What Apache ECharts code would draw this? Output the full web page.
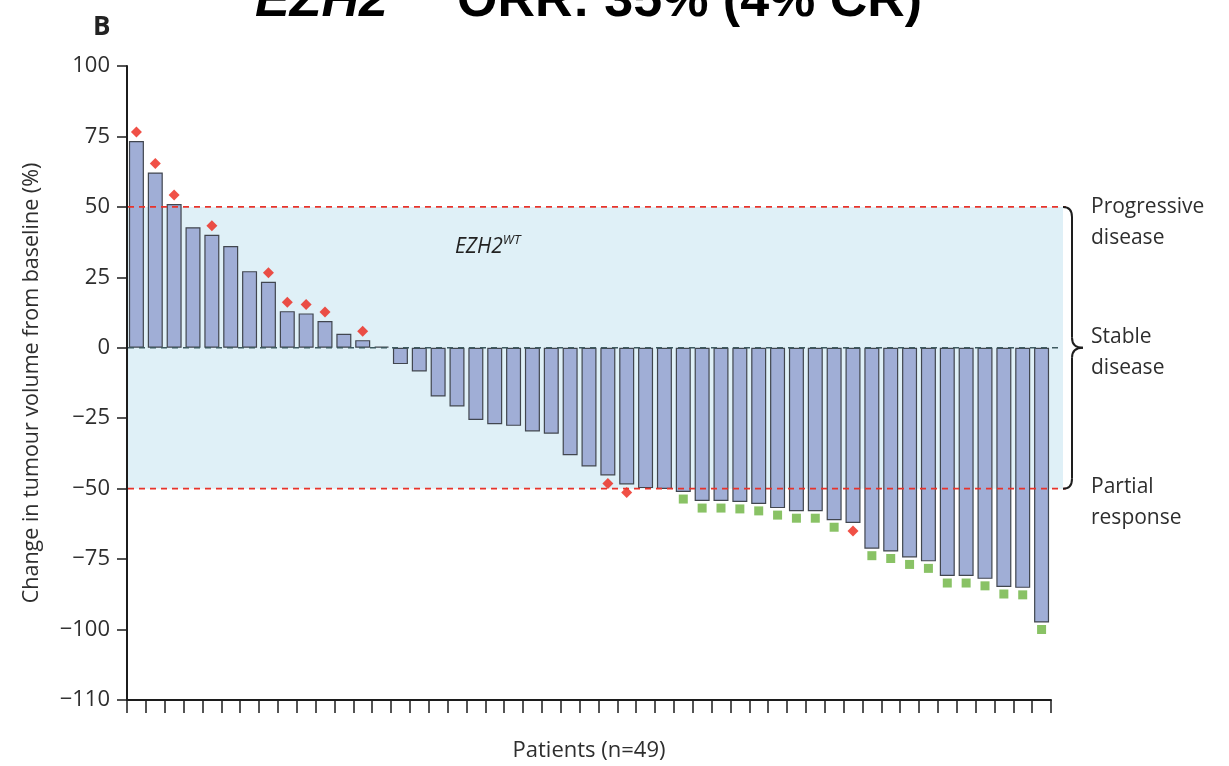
<!DOCTYPE html>
<html>
<head>
<meta charset="utf-8">
<title>Waterfall plot – change in tumour volume</title>
<script src="https://cdn.jsdelivr.net/npm/echarts@6/dist/echarts.min.js"></script>
<style>
  html, body { margin: 0; padding: 0; background: #ffffff; }
  #chart { width: 1229px; height: 766px; }
</style>
</head>
<body>
<div id="chart"></div>
<script>
// ---- data ----------------------------------------------------------------
// Best change in tumour volume from baseline (%) per patient, sorted.
const changeFromBaseline = [
  73.4, 62.2, 51.0, 42.8, 40.1, 36.1, 27.2, 23.4, 13.0, 12.2, 9.5, 5.0, 2.7, 0.4,
  -5.8, -8.4, -17.3, -20.8, -25.6, -27.1, -27.7, -29.7, -30.5, -38.1, -42.1, -45.3, -48.5, -49.8, -50.1,
  -51.2, -54.4, -54.4, -54.7, -55.4, -56.9, -58.0, -58.0, -61.2, -62.2,
  -71.3, -72.3, -74.4, -75.8, -81.0, -81.0, -82.0, -84.9, -85.2, -97.5
];
const patients = changeFromBaseline.map((_, i) => 'Patient ' + (i + 1));

// Patients (1-based position in the sorted order) flagged with each marker.
const redDiamondPatients = [1, 2, 3, 5, 8, 9, 10, 11, 13, 26, 27, 39];
const greenSquarePatients = [30, 31, 32, 33, 34, 35, 36, 37, 38, 40, 41, 42, 43, 44, 45, 46, 47, 48, 49];

// Response thresholds (%)
const progressionLimit = 50;
const responseLimit = -50;

// y axis: the lowest tick sits below an axis break and is labelled −110
const yMin = -125, yMax = 100, yStep = 25;
const yTickLabels = ['−110', '−100', '−75', '−50', '−25', '0', '25', '50', '75', '100'];

// ---- chart ---------------------------------------------------------------
const FONT = "'Open Sans', 'DejaVu Sans', sans-serif";
const TITLE_FONT = "'Liberation Sans', Arial, sans-serif";
const INK = '#2e2e2e';
const GRID_LEFT = 127, GRID_RIGHT_X = 1051;

const chart = echarts.init(document.getElementById('chart'), null, { width: 1229, height: 766 });

function markerPoint(n, offsetUp, offsetDown) {
  const v = changeFromBaseline[n - 1];
  return { value: [n - 1, v], symbolOffset: [0, v >= 0 ? -offsetUp : offsetDown] };
}

const option = {
  animation: false,
  backgroundColor: '#ffffff',
  title: {
    text: '{i|EZH2}{s|WT}{n| ORR: 35% (4% CR)}',
    left: 250,
    top: -29,
    textStyle: {
      rich: {
        i: { fontFamily: TITLE_FONT, fontSize: 52, lineHeight: 52, fontWeight: 'bold', fontStyle: 'italic', color: '#000' },
        s: { fontFamily: TITLE_FONT, fontSize: 30, lineHeight: 30, fontWeight: 'bold', fontStyle: 'italic', color: '#000', verticalAlign: 'top', padding: [0, 4, 0, 4] },
        n: { fontFamily: TITLE_FONT, fontSize: 52, lineHeight: 52, fontWeight: 'bold', color: '#000' }
      }
    }
  },
  grid: {
    left: GRID_LEFT, right: 1229 - GRID_RIGHT_X, top: 66, bottom: 66,
    containLabel: false, outerBoundsMode: 'none'
  },
  xAxis: {
    type: 'category',
    data: patients,
    boundaryGap: true,
    name: 'Patients (n=49)',
    nameLocation: 'middle',
    nameGap: 40,
    nameTextStyle: { fontFamily: FONT, fontSize: 22, color: INK, verticalAlign: 'top' },
    axisLine: { onZero: false, lineStyle: { color: '#1c1c1c', width: 2 } },
    axisTick: { show: true, interval: 0, alignWithLabel: false, length: 13, lineStyle: { color: '#1c1c1c', width: 1.5 } },
    axisLabel: { show: false },
    splitLine: { show: false }
  },
  yAxis: {
    type: 'value',
    min: yMin,
    max: yMax,
    interval: yStep,
    name: 'Change in tumour volume from baseline (%)',
    nameLocation: 'middle',
    nameGap: 84,
    nameTextStyle: { fontFamily: FONT, fontSize: 21.5, color: INK },
    axisLine: { show: true, lineStyle: { color: '#1c1c1c', width: 2 } },
    axisTick: { show: true, length: 10, lineStyle: { color: '#1c1c1c', width: 1.5 } },
    axisLabel: {
      margin: 17,
      fontFamily: FONT,
      fontSize: 22,
      color: INK,
      formatter: v => yTickLabels[Math.round((v - yMin) / yStep)]
    },
    splitLine: { show: false }
  },
  series: [
    {
      name: 'Change from baseline',
      type: 'bar',
      data: changeFromBaseline,
      barWidth: 15,
      itemStyle: { color: '#a0aed6', borderColor: '#41464f', borderWidth: 1.2 },
      z: 2
    },
    {
      name: 'Red diamond',
      type: 'scatter',
      symbol: 'diamond',
      symbolSize: 11,
      itemStyle: { color: '#ec2418' },
      data: redDiamondPatients.map(n => markerPoint(n, 9, 8)),
      z: 3
    },
    {
      name: 'Green square',
      type: 'scatter',
      symbol: 'rect',
      symbolSize: 9,
      itemStyle: { color: '#6cb33f' },
      data: greenSquarePatients.map(n => markerPoint(n, 7, 7)),
      z: 3
    }
  ]
};

chart.setOption(option);

// ---- reference band, threshold lines, brace and annotations -------------
const yAt = v => chart.convertToPixel({ yAxisIndex: 0 }, v);
const yTop = yAt(progressionLimit);
const yZero = yAt(0);
const yBottom = yAt(responseLimit);

const bandRight = 1063;
const braceX = 1072, braceTip = 1083, braceEnd = 1063, r = 10;
const braceStyle = { stroke: '#1e1e1e', lineWidth: 2, fill: null };
const labelStyle = { fontFamily: FONT, fontSize: 21, lineHeight: 31, fill: INK, align: 'left', verticalAlign: 'top' };

chart.setOption({
  graphic: [
    { type: 'rect', z: 0, silent: true,
      shape: { x: GRID_LEFT + 1, y: yTop, width: bandRight - GRID_LEFT - 1, height: yBottom - yTop },
      style: { fill: '#dff0f7' } },
    { type: 'line', z: 10, silent: true,
      shape: { x1: GRID_LEFT + 1, y1: yTop, x2: 1066, y2: yTop },
      style: { stroke: '#e8332b', lineWidth: 1.6, lineDash: [6, 5] } },
    { type: 'line', z: 10, silent: true,
      shape: { x1: GRID_LEFT + 1, y1: yBottom, x2: 1066, y2: yBottom },
      style: { stroke: '#e8332b', lineWidth: 1.6, lineDash: [6, 5] } },
    { type: 'line', z: 10, silent: true,
      shape: { x1: GRID_LEFT + 1, y1: yZero, x2: 1058, y2: yZero },
      style: { stroke: '#3e5a60', lineWidth: 1.6, lineDash: [6, 5] } },

    // curly brace spanning the stable-disease band
    { type: 'bezierCurve', z: 10, silent: true,
      shape: { x1: braceEnd, y1: yTop, cpx1: braceX, cpy1: yTop, x2: braceX, y2: yTop + r }, style: braceStyle },
    { type: 'line', z: 10, silent: true,
      shape: { x1: braceX, y1: yTop + r, x2: braceX, y2: yZero - r }, style: braceStyle },
    { type: 'bezierCurve', z: 10, silent: true,
      shape: { x1: braceX, y1: yZero - r, cpx1: braceX, cpy1: yZero, x2: braceTip, y2: yZero }, style: braceStyle },
    { type: 'bezierCurve', z: 10, silent: true,
      shape: { x1: braceTip, y1: yZero, cpx1: braceX, cpy1: yZero, x2: braceX, y2: yZero + r }, style: braceStyle },
    { type: 'line', z: 10, silent: true,
      shape: { x1: braceX, y1: yZero + r, x2: braceX, y2: yBottom - r }, style: braceStyle },
    { type: 'bezierCurve', z: 10, silent: true,
      shape: { x1: braceX, y1: yBottom - r, cpx1: braceX, cpy1: yBottom, x2: braceEnd, y2: yBottom }, style: braceStyle },

    // response category labels
    { type: 'text', z: 10, silent: true, x: 1091, y: yTop - 15.5,
      style: Object.assign({ text: 'Progressive\ndisease' }, labelStyle) },
    { type: 'text', z: 10, silent: true, x: 1091, y: yZero - 26,
      style: Object.assign({ text: 'Stable\ndisease' }, labelStyle) },
    { type: 'text', z: 10, silent: true, x: 1091, y: yBottom - 17,
      style: Object.assign({ text: 'Partial\nresponse' }, labelStyle) },

    // in-band cohort label
    { type: 'text', z: 10, silent: true, x: 455, y: 234,
      style: {
        text: '{g|EZH2}{w|WT}',
        rich: {
          g: { fontFamily: FONT, fontSize: 21, fontStyle: 'italic', fill: '#222', lineHeight: 26 },
          w: { fontFamily: FONT, fontSize: 13, fontStyle: 'italic', fill: '#222', verticalAlign: 'top', lineHeight: 16 }
        }
      } },

    // panel letter
    { type: 'text', z: 10, silent: true, x: 93, y: 15,
      style: { text: 'B', fontFamily: FONT, fontSize: 26, fontWeight: 'bold', fill: '#222' } }
  ]
});
</script>
</body>
</html>
